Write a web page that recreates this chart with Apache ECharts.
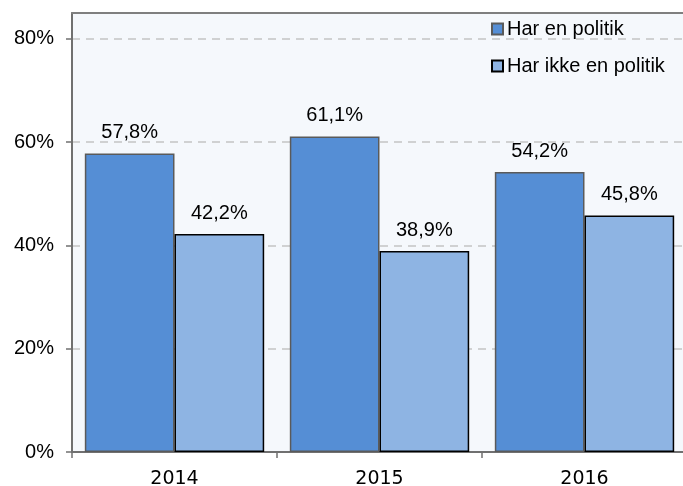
<!DOCTYPE html>
<html>
<head>
<meta charset="utf-8">
<script src="https://cdn.jsdelivr.net/npm/echarts@6/dist/echarts.min.js"></script>
<style>
  html, body { margin: 0; padding: 0; background: #fff; }
  #chart { width: 683px; height: 486px; }
</style>
</head>
<body>
<div id="chart"></div>
<script>
const years = ['2014', '2015', '2016'];
const harPolitik = [57.8, 61.1, 54.2];
const harIkkePolitik = [42.2, 38.9, 45.8];
const yTicks = [0, 20, 40, 60, 80];

const fmtPct = v => v.toFixed(1).replace('.', ',') + '%';

const chart = echarts.init(document.getElementById('chart'));
chart.setOption({
  animation: false,
  textStyle: { fontFamily: 'Liberation Sans, Arial, sans-serif' },
  grid: {
    left: 72, width: 615, top: 13, bottom: 34,
    outerBoundsMode: 'none',
    show: true,
    backgroundColor: '#F5F8FC',
    borderWidth: 0
  },
  legend: {
    orient: 'vertical',
    left: 491, top: 19,
    padding: 0,
    itemWidth: 11, itemHeight: 11,
    itemGap: 17,
    icon: 'rect',
    textStyle: { fontSize: 20, color: '#000', padding: [0, 0, 0, -1] },
    data: ['Har en politik', 'Har ikke en politik']
  },
  xAxis: [
    {
      type: 'category',
      data: years,
      axisLine: { lineStyle: { color: '#707070', width: 2 } },
      axisTick: { show: true, length: 6, lineStyle: { color: '#707070', width: 1.5 } },
      axisLabel: { color: '#000', fontSize: 19, fontFamily: 'DejaVu Sans, Verdana, sans-serif', margin: 18 },
      splitLine: { show: false }
    },
    {
      type: 'category',
      position: 'top',
      data: years,
      z: 5,
      axisLine: { show: true, lineStyle: { color: '#7f7f7f', width: 2 } },
      axisTick: { show: false },
      axisLabel: { show: false },
      splitLine: { show: false }
    }
  ],
  yAxis: {
    type: 'value',
    min: 0, max: 85, interval: 20,
    axisLine: { show: true, lineStyle: { color: '#707070', width: 2 } },
    axisTick: { show: true, length: 6, lineStyle: { color: '#707070', width: 1.5 } },
    axisLabel: {
      color: '#000', fontSize: 20, margin: 18,
      showMaxLabel: false,
      formatter: v => yTicks.includes(v) ? v + '%' : ''
    },
    splitLine: { lineStyle: { color: '#c4c4c4', type: [8, 6], width: 1.5 } }
  },
  series: [
    {
      name: 'Har en politik',
      type: 'bar',
      data: harPolitik,
      barGap: '0%',
      barCategoryGap: '12.5%',
      itemStyle: { color: '#558ED5', borderColor: '#5a5a5a', borderWidth: 1.5 },
      label: { show: true, position: 'top', distance: 11, fontSize: 20, color: '#000', formatter: p => fmtPct(p.value) }
    },
    {
      name: 'Har ikke en politik',
      type: 'bar',
      data: harIkkePolitik,
      itemStyle: { color: '#8EB4E3', borderColor: '#000', borderWidth: 1.5 },
      label: { show: true, position: 'top', distance: 11, fontSize: 20, color: '#000', formatter: p => fmtPct(p.value) }
    }
  ]
});
</script>
</body>
</html>
